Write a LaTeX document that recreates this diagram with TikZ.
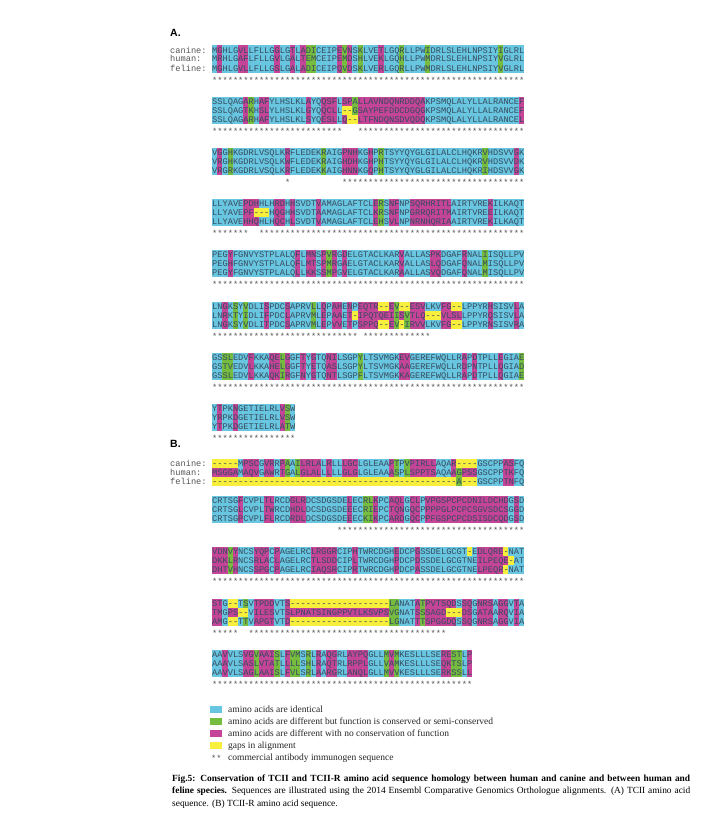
\documentclass[tikz,border=0pt]{standalone}
\usepackage{fontspec}
\setmainfont{Liberation Serif}
\setsansfont{Liberation Sans}
\setmonofont{Liberation Mono}
\definecolor{seqc}{RGB}{104,198,224}
\definecolor{seqg}{RGB}{118,188,62}
\definecolor{seqm}{RGB}{196,68,152}
\definecolor{seqy}{RGB}{248,238,60}
\definecolor{seqtext}{RGB}{55,75,95}
\definecolor{lbl}{RGB}{85,85,85}
\newcommand\cw{5.2}
\newcommand\sx{212}
\newcommand\bl{3}
\newcommand\staroff{33}
\tikzset{
  seqtxt/.style={font=\ttfamily\fontsize{8.67}{9}\selectfont, inner sep=0pt, anchor=base west, text=seqtext},
  lbltxt/.style={font=\ttfamily\fontsize{8.67}{9}\selectfont, inner sep=0pt, anchor=base west, text=lbl},
  headtxt/.style={font=\sffamily\bfseries\fontsize{10.5}{12}\selectfont, inner sep=0pt, anchor=base west},
  legtxt/.style={font=\fontsize{9.5}{11}\selectfont, inner sep=0pt, anchor=base west, text=black!85},
  captxt/.style={font=\fontsize{9.4}{11}\selectfont, inner sep=0pt, anchor=base west, text=black}
}
\newcommand\seqcell[3]{\fill[#1] ({\sx+(#2-1)*\cw-0.05},{#3-4.5}) rectangle ++({\cw+0.1},9);}
\newcommand\seqbg[2]{\fill[seqc] (\sx,{#1-4.5}) rectangle ({\sx+#2*\cw},{#1+22.5});}
\newcommand\seqtext[4]{%
  \node[seqtxt] at (\sx,{#1+\bl}) {#2};
  \node[seqtxt] at (\sx,{#1+9+\bl}) {#3};
  \node[seqtxt] at (\sx,{#1+18+\bl}) {#4};}
\newcommand\seqstar[2]{\node[seqtxt, text=lbl] at ({\sx+(#1-1)*\cw},{#2+\staroff}) {*};}

\ExplSyntaxOn
\str_new:N \l__sq_ng_str
\str_new:N \l__sq_gp_str
\str_new:N \l__sq_rep_str
\str_new:N \l__sq_cls_str
\int_new:N \l__sq_n_int
\cs_new:Npn \__sq_grp:n #1
 {
  \str_case:nnF {#1}
   {
    {I}{1}{L}{1}{V}{1}{M}{1}
    {F}{2}{Y}{2}{W}{2}
    {K}{3}{R}{3}{H}{3}
    {D}{4}{E}{4}
    {N}{5}{Q}{5}
    {S}{6}{T}{6}
    {A}{7}{G}{7}
   }
   {#1}
 }
\cs_new:Npn \__sq_ng:n #1 { \str_if_eq:nnF {#1} {-} {#1} }
\cs_new:Npn \__sq_ngg:n #1 { \str_if_eq:nnF {#1} {-} { \__sq_grp:n {#1} } }
\cs_new_protected:Npn \__sq_cell:nnn #1#2#3
 {
  \str_if_eq:nnTF {#3} {-}
   { \seqcell {seqy} {#1} {#2} }
   {
    \str_if_eq:VnT \l__sq_cls_str {g} { \seqcell {seqg} {#1} {#2} }
    \str_if_eq:VnT \l__sq_cls_str {m} { \seqcell {seqm} {#1} {#2} }
   }
 }
\cs_new_protected:Npn \__sq_column:nnnnn #1#2#3#4#5
 {
  \str_set:Nx \l__sq_ng_str { \__sq_ng:n {#3} \__sq_ng:n {#4} \__sq_ng:n {#5} }
  \str_set:Nx \l__sq_gp_str { \__sq_ngg:n {#3} \__sq_ngg:n {#4} \__sq_ngg:n {#5} }
  \int_set:Nn \l__sq_n_int { \str_count:N \l__sq_ng_str }
  \str_set:Nn \l__sq_cls_str { m }
  \int_compare:nNnT { \l__sq_n_int } > { 1 }
   {
    \str_set:Nx \l__sq_rep_str
     { \prg_replicate:nn { \l__sq_n_int } { \str_head:N \l__sq_ng_str } }
    \str_if_eq:NNTF \l__sq_rep_str \l__sq_ng_str
     { \str_set:Nn \l__sq_cls_str { c } }
     {
      \str_set:Nx \l__sq_rep_str
       { \prg_replicate:nn { \l__sq_n_int } { \str_head:N \l__sq_gp_str } }
      \str_if_eq:NNT \l__sq_rep_str \l__sq_gp_str
       { \str_set:Nn \l__sq_cls_str { g } }
     }
   }
  \__sq_cell:nnn {#1} {#2} {#3}
  \__sq_cell:nnn {#1} {#2+9} {#4}
  \__sq_cell:nnn {#1} {#2+18} {#5}
 }
\cs_generate_variant:Nn \__sq_column:nnnnn { nnxxx }
\cs_new_protected:Npn \__sq_range:nw #1#2/#3\q_stop
 { \int_step_inline:nnn {#2} {#3} { \seqstar {##1} {#1} } }
\NewDocumentCommand \seqblock { m m m m m }
 {
  \exp_args:Nnx \seqbg {#1} { \str_count:n {#2} }
  \int_step_inline:nn { \str_count:n {#2} }
   {
    \__sq_column:nnxxx {##1} {#1}
     { \str_item:nn {#2} {##1} }
     { \str_item:nn {#3} {##1} }
     { \str_item:nn {#4} {##1} }
   }
  \seqtext {#1} {#2} {#3} {#4}
  \clist_map_inline:nn {#5} { \__sq_range:nw {#1} ##1 \q_stop }
 }
\ExplSyntaxOff

\begin{document}
\begin{tikzpicture}[x=1pt,y=-1pt]
\useasboundingbox (0,0) rectangle (707,816);
\fill[white] (0,0) rectangle (707,816);

% ---------- A ----------
\node[headtxt] (hA) at (170,37) {A.};
\node[lbltxt] (lc1) at (170,{50+\bl}) {canine:};
\node[lbltxt] (lh1) at (170,{59+\bl}) {human:};
\node[lbltxt] (lf1) at (170,{68+\bl}) {feline:};

\seqblock{50}{MGHLGVLLFLLGGLGTLADICEIPEVNSKLVETLGQRLLPWIDRLSLEHLNPSIYIGLRL}{MRHLGAFLFLLGVLGALTEMCEIPEMDSHLVEKLGQHLLPWMDRLSLEHLNPSIYVGLRL}{MGHLGVLLFLLGSLGALADICEIPQVDSKLVERLGQRLLPWMDRLSLEHLNPSIYVGLRL}{1/60}
\seqblock{101.2}{SSLQAGARHAFYLHSLKLAYQQSFLSPALLAVNDQNRDDQAKPSMQLALYLLALRANCEF}{SSLQAGTKHSLYLHSLKLGYQQCLL--GSAYPEFDDCDGQGKPSMQLALYLLALRANCEF}{SSLQAGARHAFYLHSLKLSYQESLLQ--LTFNDQNSDVQDQKPSMQLALYLLALRANCEL}{1/25,29/60}
\seqblock{152.4}{VGGHKGDRLVSQLKRFLEDEKRAIGPNHKGHPRTSYYQYGLGILALCLHQKRVHDSVVGK}{VRGHKGDRLVSQLKWFLEDEKRAIGHDHKGHPHTSYYQYGLGILALCLHQKRVHDSVVDK}{VRGRKGDRLVSQLKRFLEDEKKAIGHNNKGQPHTSYYQYGLGILALCLHQKRIHDSVVGK}{15/15,26/60}
\seqblock{203.6}{LLYAVEPDHHLHRDHHSVDTVAMAGLAFTCLERSNFNPSQRHRITLAIRTVREKILKAQT}{LLYAVEPF---HQGHHSVDTAAMAGLAFTCLKRSNFNPGRRQRITMAIRTVREEILKAQT}{LLYAVEHHQHLHQCHLSVDTVAMAGLAFTCLEHSVLNPNRNHQRIAAIRTVREKILKAQT}{1/7,10/60}
\seqblock{254.8}{PEGYFGNVYSTPLALQFLMNSPVRGDELGTACLKARVALLASPKDGAFRNALIISQLLPV}{PEGHFGNVYSTPLALQFLMTSPMRGAELGTACLKARVALLASLQDGAFQNALMISQLLPV}{PEGYFGNVYSTPLALQLLKKSSMPGVELGTACLKARAALLASVQDGAFQNALMISQLLPV}{1/60}
\seqblock{306}{LNGKSYVDLISPDCSAPRVLLQPAHENPEQTR--EV--ESVLKVFG--LPPYRHSISVLA}{LNRKTYIDLIFPDCLAPRVMLEPAAET-IPQTQEIISVTLQ---VLSLLPPYRQSISVLA}{LNGKSYVDLITPDCSAPRVMLEPVVETPSPPQ--EV-IRVVLKVFG--LPPYRNSISVRA}{1/28,30/42}
\seqblock{357.2}{GSSLEDVFKKAQELGGFTYGTQNILSGPYLTSVMGKEVGEREFWQLLRAPDTPLLEGIAE}{GSTVEDVLKKAHELGGFTYETQASLSGPYLTSVMGKAAGEREFWQLLRDPNTPLLQGIAD}{GSSLEDVLKKAQKIRGFNYGTQNTLSGPFLTSVMGKKAGEREFWQLLRAPDTPLLQGIAE}{1/60}
\seqblock{408.4}{YTPKNGETIELRLVSW}{YRPKDGETIELRLVSW}{YTPKDGETIELRLATW}{1/16}

% ---------- B ----------
\node[headtxt] (hB) at (170,447) {B.};
\node[lbltxt] (lc2) at (170,{463+\bl}) {canine:};
\node[lbltxt] (lh2) at (170,{472+\bl}) {human:};
\node[lbltxt] (lf2) at (170,{481+\bl}) {feline:};

\seqblock{463}{-----MPSCGVRRPAAILRLALRLLLGCLGLEAAPTPVPIRLLAQAR----GSCPPASFQ}{MSGGAMAQVGAWRTGALGLALLLLLGLGLGLEAAASPLSPPTSAQAAGPSSGSCPPTKFQ}{-----------------------------------------------A---GSCPPTNFQ}{}
\seqblock{500}{CRTSGFCVPLTLRCDGLRDCSDGSDELECRLKPCAQLGCLPVPGSPCPCDNILDCHDGSD}{CRTSGLCVPLTWRCDHDLDCSDGSDEEECRIEPCTQNGQCPPPPGLPCPCSGVSDCSGGD}{CRTSGPCVPLFLRCDRDLDCSDGSDEEECKIKPCARDGQCPPFGSPCPCDSISDCQDGSD}{25/60}
\seqblock{551.5}{VDNVYNCSYQPCPAGELRCLRGGRCIPHTWRCDGHEDCPGSSDELGCGT-EDLQRE-NAT}{DKKLRNCSRLACLAGELRCTLSDDCIPLTWRCDGHPDCPDSSDELGCGTNEILPEQE-AT}{DHTVHNCSSPGCPAGELRCIAQSRCIPRTWRCDGHPDCPASSDELGCGTNELPEQR-NAT}{1/60}
\seqblock{603}{STG--TSVTPDDVTS-------------------LANATATPVTSQDSSQGNRSAGGVTA}{TMGPS--VILESVTSLPNATSINGPPVTLKSVPSVGNATSSSAGD---DSGATAARQVIA}{AMG--TTVAPGTVTD-------------------LGNATTTSPGGDQSSQGNRSAGGVIA}{1/5,8/45}
\seqblock{654.5}{AAVVLSVGVAAISLFVMSRLRAQGRLAYPQGLLMVMKESLLLSERESTLP}{AAAVLSASLVTATLLLLSHLRAQTRLRPPLGLLVAMKESLLLSEQKTSLP}{AAVVLSAGLAAISLFVLSRLAARGRLANQLGLLMVVKESLLLSERKSSLL}{1/50}

% ---------- legend ----------
\fill[seqc] (210,705.5) rectangle (222,712.5);
\fill[seqg] (210,717.5) rectangle (222,724.5);
\fill[seqm] (210,729.5) rectangle (222,736.5);
\fill[seqy] (210,741.5) rectangle (222,748.5);
\node[lbltxt] (lgs) at (211,{757+4.5}) {**};
\node[legtxt] (lg1) at (228,712) {amino acids are identical};
\node[legtxt] (lg2) at (228,724) {amino acids are different but function is conserved or semi-conserved};
\node[legtxt] (lg3) at (228,736) {amino acids are different with no conservation of function};
\node[legtxt] (lg4) at (228,748) {gaps in alignment};
\node[legtxt] (lg5) at (228,760) {commercial antibody immunogen sequence};

% ---------- caption ----------
\node[captxt] (cap1) at (172,781) {\makebox[518pt][s]{\bfseries Fig.5: Conservation of TCII and TCII-R amino acid sequence homology between human and canine and between human and}};
\node[captxt] (cap2) at (172,793.5) {\makebox[518pt][s]{\textbf{feline species.} Sequences are illustrated using the 2014 Ensembl Comparative Genomics Orthologue alignments. (A) TCII amino acid}};
\node[captxt] (cap3) at (172,806) {sequence. (B) TCII-R amino acid sequence.};
\end{tikzpicture}
\end{document}
